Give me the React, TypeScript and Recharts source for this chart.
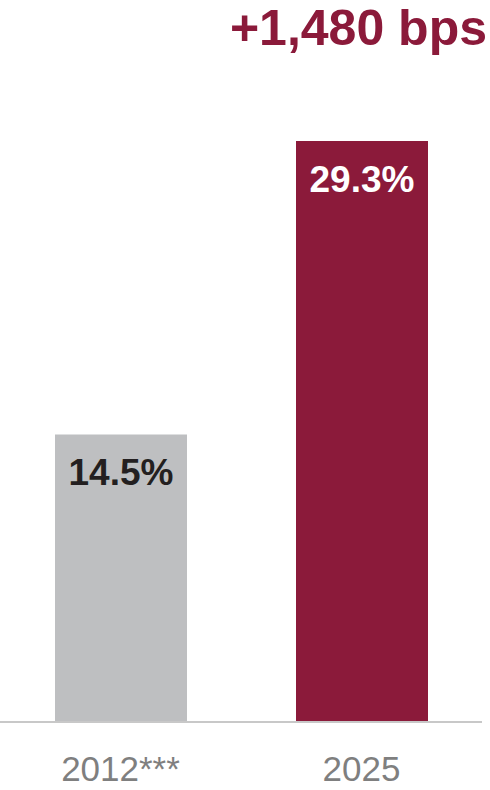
import { BarChart, Bar, XAxis, YAxis, Cell, LabelList } from 'recharts';

const years = ['2012***', '2025'];
const margins = [14.5, 29.3];
const barColors = ['#bebfc1', '#8b1a3a'];
const labelColors = ['#231f20', '#ffffff'];
const headline = '+1,480 bps';

const data = years.map((year, i) => ({ year, value: margins[i] }));

const font = '"Liberation Sans", Arial, Helvetica, sans-serif';

function YearTick(props: any) {
  const { x, y, payload } = props;
  return (
    <text x={x} y={y} dy={51} textAnchor="middle" fill="#7f7f7f" fontSize={35} fontFamily={font}>
      {payload.value}
    </text>
  );
}

function ValueLabel(props: any) {
  const { x, y, width, value, index } = props;
  return (
    <text
      x={x + width / 2}
      y={y}
      dy={51}
      textAnchor="middle"
      fill={labelColors[index]}
      fontSize={37}
      fontWeight="bold"
      fontFamily={font}
    >
      {`${value.toFixed(1)}%`}
    </text>
  );
}

export default function App() {
  return (
    <div style={{ position: 'absolute', left: 0, top: 0, width: 490, height: 790, background: '#fff' }}>
      <div
        style={{
          position: 'absolute',
          right: 3,
          top: 3,
          fontFamily: font,
          fontWeight: 'bold',
          fontSize: 50,
          lineHeight: '50px',
          color: '#8b1a3a',
          whiteSpace: 'nowrap',
        }}
      >
        {headline}
      </div>
      <BarChart width={490} height={790} data={data} margin={{ top: 127, right: 8, bottom: 0, left: 0 }}>
        <XAxis
          dataKey="year"
          height={68}
          tickLine={false}
          axisLine={{ stroke: '#c8c8c8', strokeWidth: 2 }}
          tick={<YearTick />}
          interval={0}
        />
        <YAxis hide domain={[0, 30]} />
        <Bar dataKey="value" barSize={132} isAnimationActive={false}>
          {data.map((d, i) => (
            <Cell key={d.year} fill={barColors[i]} />
          ))}
          <LabelList dataKey="value" content={<ValueLabel />} />
        </Bar>
      </BarChart>
    </div>
  );
}
